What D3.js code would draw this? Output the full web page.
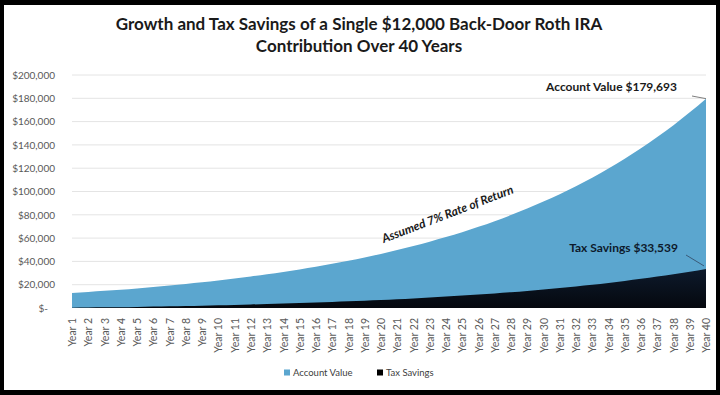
<!DOCTYPE html>
<html>
<head>
<meta charset="utf-8">
<script src="https://cdn.jsdelivr.net/npm/d3@7"></script>
<style>
  body { margin: 0; background: #000; }
  svg { display: block; }
</style>
</head>
<body>
<div id="chart"></div>
<script>
var years = [];
for (var i = 1; i <= 40; i++) years.push('Year ' + i);

var accountValue = [12840, 13739, 14701, 15730, 16831, 18009, 19269, 20618, 22062, 23606,
    25258, 27026, 28918, 30942, 33108, 35426, 37906, 40559, 43398, 46436,
    49687, 53165, 56886, 60868, 65129, 69688, 74566, 79786, 85371, 91347,
    97741, 104583, 111904, 119737, 128119, 137087, 146683, 156951, 167938, 179693];

var taxSavings = [168, 348, 540, 746, 966, 1202, 1454, 1724, 2012, 2321,
    2652, 3005, 3384, 3788, 4222, 4685, 5181, 5712, 6280, 6887,
    7537, 8233, 8977, 9774, 10626, 11538, 12513, 13557, 14674, 15869,
    17148, 18517, 19981, 21547, 23224, 25017, 26937, 28990, 31188, 33539];

var yTicks = [0, 20000, 40000, 60000, 80000, 100000, 120000, 140000, 160000, 180000, 200000];

const width = 720;
const height = 395;
const padLeft = 72, padRight = 706, padTop = 75, padBottom = 308;

const svg = d3.select('#chart')
    .append('svg')
    .attr('width', width)
    .attr('height', height)
    .style('font-family', 'Lato, sans-serif');

svg.append('rect').attr('width', width).attr('height', height).attr('fill', '#000');
svg.append('rect').attr('x', 4).attr('y', 5).attr('width', 712).attr('height', 385).attr('fill', '#fff');

var xScale = d3.scalePoint().domain(years).range([padLeft, padRight]);
var yScale = d3.scaleLinear().domain([0, 200000]).range([padBottom, padTop]);

// gridlines
svg.append('g')
    .selectAll('line')
    .data(yTicks.slice(1))
    .join('line')
    .attr('x1', padLeft)
    .attr('x2', padRight)
    .attr('y1', d => yScale(d))
    .attr('y2', d => yScale(d))
    .attr('stroke', '#e4e4e4')
    .attr('stroke-width', 1);

// y axis
var fmt = d3.format('$,');
var yAxis = svg.append('g')
    .attr('transform', 'translate(' + (padLeft - 14) + ',0)')
    .call(d3.axisLeft(yScale).tickValues(yTicks).tickSize(0).tickFormat(d => d == 0 ? '$-' : fmt(d)));
yAxis.select('.domain').remove();
yAxis.selectAll('text')
    .attr('fill', '#595959')
    .style('font-size', '10px')
    .style('font-family', 'Lato, sans-serif');
yAxis.selectAll('text').filter(d => d == 0).attr('x', -10);

var data = years.map((y, i) => ({year: y, acc: accountValue[i], tax: taxSavings[i]}));

var grad = svg.append('defs').append('linearGradient')
    .attr('id', 'taxGrad').attr('x1', 0).attr('x2', 0).attr('y1', 0).attr('y2', 1);
grad.append('stop').attr('offset', '0%').attr('stop-color', '#0d1a2c');
grad.append('stop').attr('offset', '100%').attr('stop-color', '#05080e');

var accArea = d3.area()
    .x(d => xScale(d.year))
    .y0(yScale(0))
    .y1(d => yScale(d.acc))
    .curve(d3.curveMonotoneX);
svg.append('path')
    .datum(data)
    .attr('d', accArea)
    .attr('fill', '#5ba6cf');

var taxArea = d3.area()
    .x(d => xScale(d.year))
    .y0(yScale(0))
    .y1(d => yScale(d.tax))
    .curve(d3.curveMonotoneX);
svg.append('path')
    .datum(data)
    .attr('d', taxArea)
    .attr('fill', 'url(#taxGrad)');

// x axis labels
var xAxis = svg.append('g')
    .attr('transform', 'translate(0,' + padBottom + ')')
    .call(d3.axisBottom(xScale).tickSize(0));
xAxis.select('.domain').remove();
xAxis.selectAll('text')
    .attr('transform', 'rotate(-90)')
    .attr('x', -10)
    .attr('y', 0)
    .attr('dy', '0.35em')
    .style('text-anchor', 'end')
    .style('font-size', '10.5px')
    .style('font-family', 'Lato, sans-serif')
    .attr('fill', '#595959');

// annotations
var last = data[data.length - 1];
svg.append('text')
    .attr('x', 677).attr('y', 91)
    .attr('text-anchor', 'end')
    .style('font-size', '12px').style('font-weight', 'bold')
    .attr('fill', '#1a1a1a')
    .text('Account Value $179,693');
svg.append('line')
    .attr('x1', 692).attr('y1', 96)
    .attr('x2', xScale(last.year)).attr('y2', yScale(last.acc))
    .attr('stroke', '#7f7f7f').attr('stroke-width', 1);

svg.append('text')
    .attr('x', 678).attr('y', 252)
    .attr('text-anchor', 'end')
    .style('font-size', '12px').style('font-weight', 'bold')
    .attr('fill', '#0d1a2c')
    .text('Tax Savings $33,539');
svg.append('line')
    .attr('x1', 686).attr('y1', 255)
    .attr('x2', xScale(last.year) - 2).attr('y2', yScale(last.tax) - 3)
    .attr('stroke', '#3a5a78').attr('stroke-width', 1);

svg.append('text')
    .attr('transform', 'translate(449,218) rotate(-21)')
    .attr('text-anchor', 'middle')
    .style('font-size', '12px').style('font-weight', 'bold').style('font-style', 'italic')
    .attr('fill', '#1a1a1a')
    .text('Assumed 7% Rate of Return');

// title
svg.append('text')
    .attr('x', 359).attr('y', 30)
    .attr('text-anchor', 'middle')
    .style('font-size', '17px').style('font-weight', 'bold')
    .attr('fill', '#1a1a1a')
    .text('Growth and Tax Savings of a Single $12,000 Back-Door Roth IRA');
svg.append('text')
    .attr('x', 359).attr('y', 52)
    .attr('text-anchor', 'middle')
    .style('font-size', '17px').style('font-weight', 'bold')
    .attr('fill', '#1a1a1a')
    .text('Contribution Over 40 Years');

// legend
var legend = [{name: 'Account Value', color: '#5ba6cf', x: 284}, {name: 'Tax Savings', color: '#000', x: 377}];
var lg = svg.append('g').selectAll('g').data(legend).join('g')
    .attr('transform', d => 'translate(' + d.x + ',373)');
lg.append('rect').attr('x', 0).attr('y', -3.5).attr('width', 6).attr('height', 6).attr('fill', d => d.color);
lg.append('text').attr('x', 9).attr('y', 0).attr('dy', '0.35em')
    .style('font-size', '9.5px').attr('fill', '#404040')
    .text(d => d.name);
</script>
</body>
</html>
